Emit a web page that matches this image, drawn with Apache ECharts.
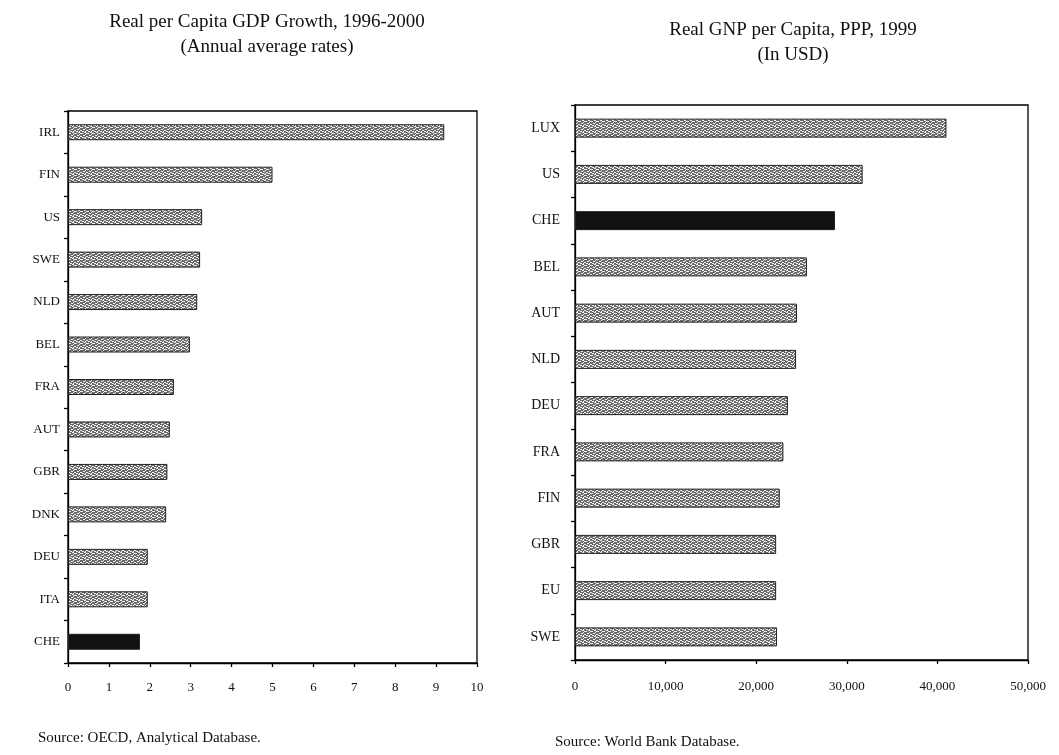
<!DOCTYPE html>
<html>
<head>
<meta charset="utf-8">
<script src="https://cdn.jsdelivr.net/npm/echarts@6/dist/echarts.min.js"></script>
<style>
  html, body { margin: 0; padding: 0; background: #ffffff; }
  #chart { width: 1059px; height: 755px; }
</style>
</head>
<body>
<div id="chart"></div>
<script>
// Real per capita GDP growth, 1996-2000 (annual average, %)
const growthCountries = ['IRL', 'FIN', 'US', 'SWE', 'NLD', 'BEL', 'FRA', 'AUT', 'GBR', 'DNK', 'DEU', 'ITA', 'CHE'];
const growthValues = [9.2, 5.0, 3.28, 3.23, 3.16, 2.98, 2.59, 2.49, 2.43, 2.4, 1.95, 1.95, 1.76];
const growthTicks = [0, 1, 2, 3, 4, 5, 6, 7, 8, 9, 10];

// Real GNP per capita, PPP, 1999 (USD)
const gnpCountries = ['LUX', 'US', 'CHE', 'BEL', 'AUT', 'NLD', 'DEU', 'FRA', 'FIN', 'GBR', 'EU', 'SWE'];
const gnpValues = [41000, 31750, 28700, 25600, 24500, 24400, 23500, 23000, 22600, 22200, 22200, 22300];
const gnpTicks = [0, 10000, 20000, 30000, 40000, 50000];

const highlight = 'CHE';
const serif = '"Liberation Serif", "DejaVu Serif", serif';

// Coarse dithered grey fill used for the bars
function ditherPattern() {
  const c = document.createElement('canvas');
  c.width = 6; c.height = 6;
  const ctx = c.getContext('2d');
  ctx.fillStyle = '#6a6a6a';
  ctx.fillRect(0, 0, 6, 6);
  ctx.fillStyle = '#f2f2f2';
  [[0, 0], [1, 0], [3, 1], [4, 1], [1, 2], [5, 3], [0, 3], [2, 4], [3, 4], [4, 5], [5, 5], [1, 5], [2, 1]]
    .forEach(([x, y]) => ctx.fillRect(x, y, 1, 1));
  return c;
}
const pattern = { image: ditherPattern(), repeat: 'repeat' };

function barData(cats, vals) {
  return vals.map((v, i) => cats[i] === highlight
    ? { value: v, itemStyle: { color: '#111111' } }
    : v);
}

const axisLine = { show: true, lineStyle: { color: '#000', width: 1.3 } };
const axisTick = { show: true, inside: false, length: 4, lineStyle: { color: '#000', width: 1.3 } };
const titleStyle = { fontFamily: serif, fontSize: 19, fontWeight: 'normal', color: '#111', lineHeight: 25 };
const sourceStyle = { fontFamily: serif, fontSize: 15, fontWeight: 'normal', color: '#111' };

const chart = echarts.init(document.getElementById('chart'), null, { renderer: 'canvas' });
chart.setOption({
  backgroundColor: '#ffffff',
  animation: false,
  title: [
    {
      text: 'Real per Capita GDP Growth, 1996-2000\n(Annual average rates)',
      left: 262, top: 5, textAlign: 'center', textStyle: titleStyle
    },
    {
      text: 'Real GNP per Capita, PPP, 1999\n(In USD)',
      left: 788, top: 13, textAlign: 'center', textStyle: titleStyle
    },
    { text: 'Source: OECD, Analytical Database.', left: 33, top: 726, textStyle: sourceStyle },
    { text: 'Source: World Bank Database.', left: 550, top: 730, textStyle: sourceStyle }
  ],
  grid: [
    { left: 68, top: 111, width: 409, height: 552, show: true, borderColor: '#000', borderWidth: 1.3, backgroundColor: 'transparent' },
    { left: 575, top: 105, width: 453, height: 555, show: true, borderColor: '#000', borderWidth: 1.3, backgroundColor: 'transparent' }
  ],
  xAxis: [
    {
      gridIndex: 0, type: 'value',
      min: growthTicks[0], max: growthTicks[growthTicks.length - 1], interval: 1,
      axisLine, axisTick, splitLine: { show: false },
      axisLabel: { fontFamily: serif, fontSize: 13, color: '#111', margin: 18 }
    },
    {
      gridIndex: 1, type: 'value',
      min: gnpTicks[0], max: gnpTicks[gnpTicks.length - 1], interval: 10000,
      axisLine, axisTick, splitLine: { show: false },
      axisLabel: {
        fontFamily: serif, fontSize: 13, color: '#111', margin: 20,
        formatter: v => v.toLocaleString('en-US')
      }
    }
  ],
  yAxis: [
    {
      gridIndex: 0, type: 'category', data: growthCountries, inverse: true,
      axisLine, axisTick: Object.assign({ alignWithLabel: false }, axisTick),
      axisLabel: { fontFamily: serif, fontSize: 13, color: '#111', margin: 8 }
    },
    {
      gridIndex: 1, type: 'category', data: gnpCountries, inverse: true,
      axisLine, axisTick: Object.assign({ alignWithLabel: false }, axisTick),
      axisLabel: { fontFamily: serif, fontSize: 14, color: '#111', margin: 15 }
    }
  ],
  series: [
    {
      type: 'bar', xAxisIndex: 0, yAxisIndex: 0,
      data: barData(growthCountries, growthValues),
      barWidth: 16,
      itemStyle: { color: pattern, borderColor: '#222', borderWidth: 1 }
    },
    {
      type: 'bar', xAxisIndex: 1, yAxisIndex: 1,
      data: barData(gnpCountries, gnpValues),
      barWidth: 19,
      itemStyle: { color: pattern, borderColor: '#222', borderWidth: 1 }
    }
  ]
});
</script>
</body>
</html>
